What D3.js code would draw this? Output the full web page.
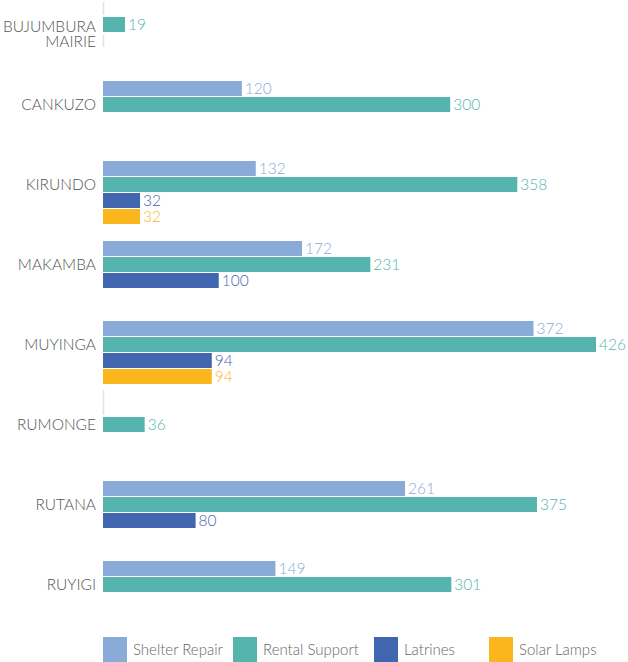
<!DOCTYPE html>
<html>
<head>
<meta charset="utf-8">
<script src="https://cdn.jsdelivr.net/npm/d3@7"></script>
<style>
  html, body { margin: 0; padding: 0; background: #fff; }
  svg { display: block; font-family: "Lato", "Open Sans", sans-serif; font-weight: 300; }
</style>
</head>
<body>
<svg id="chart" width="628" height="662"></svg>
<script>
const categories = ["BUJUMBURA MAIRIE", "CANKUZO", "KIRUNDO", "MAKAMBA", "MUYINGA", "RUMONGE", "RUTANA", "RUYIGI"];
const seriesNames = ["Shelter Repair", "Rental Support", "Latrines", "Solar Lamps"];
const shelterRepair  = [0, 120, 132, 172, 372, 0, 261, 149];
const rentalSupport  = [19, 300, 358, 231, 426, 36, 375, 301];
const latrines       = [0, 0, 32, 100, 94, 0, 80, 0];
const solarLamps     = [0, 0, 32, 0, 94, 0, 0, 0];
const seriesValues = [shelterRepair, rentalSupport, latrines, solarLamps];
const barColors   = ["#8aabd8", "#55b5ae", "#4066b0", "#fbb61e"];
const labelColors = ["#8aabd8", "#55b5ae", "#4066b0", "#fbb61e"];

const svg = d3.select("#chart");

const x = d3.scaleLinear().domain([0, 426]).range([103, 596]);
const y = d3.scaleBand().domain(categories).range([1, 641]).paddingInner(0).paddingOuter(0);
const ySlot = d3.scaleBand().domain(seriesNames).range([0, 64]);

// faint axis fragments
const axisG = svg.append("g");
const segs = [
  {cat: "BUJUMBURA MAIRIE", a: 1, b: 14},
  {cat: "BUJUMBURA MAIRIE", a: 34, b: 46},
  {cat: "RUMONGE", a: -11, b: 14}
];
axisG.selectAll("line").data(segs).join("line")
  .attr("x1", x(0) + 0.5).attr("x2", x(0) + 0.5)
  .attr("y1", d => y(d.cat) + d.a).attr("y2", d => y(d.cat) + d.b)
  .attr("stroke", "#e2e2e2").attr("stroke-width", 1.5);

// bars
const rows = [];
categories.forEach((c, i) => {
  seriesNames.forEach((s, j) => {
    const v = seriesValues[j][i];
    if (v > 0) rows.push({cat: c, series: s, j, v});
  });
});

svg.append("g").selectAll("rect").data(rows).join("rect")
  .attr("x", x(0))
  .attr("y", d => y(d.cat) + ySlot(d.series))
  .attr("width", d => x(d.v) - x(0))
  .attr("height", ySlot.bandwidth() - 1)
  .attr("fill", d => barColors[d.j]);

svg.append("g").selectAll("text").data(rows).join("text")
  .attr("x", d => x(d.v) + 3)
  .attr("y", d => y(d.cat) + ySlot(d.series) + (ySlot.bandwidth() - 1) / 2)
  .attr("dy", "0.36em")
  .attr("font-size", 15.5)
  .attr("fill", d => labelColors[d.j])
  .text(d => d.v);

// category labels
const catG = svg.append("g");
categories.forEach(c => {
  const words = c === "BUJUMBURA MAIRIE" ? ["BUJUMBURA", "MAIRIE"] : [c];
  const t = catG.append("text")
    .attr("x", 96)
    .attr("text-anchor", "end")
    .attr("font-size", 15.5)
    .attr("fill", "#555");
  words.forEach((w, k) => {
    t.append("tspan")
      .attr("x", 96)
      .attr("y", y(c) + (words.length > 1 ? 25.5 + k * 14.5 : 23.5))
      .attr("dy", "0.36em")
      .text(w);
  });
});

// legend
const legendX = [103, 233, 374, 489];
const lg = svg.append("g");
seriesNames.forEach((s, j) => {
  lg.append("rect")
    .attr("x", legendX[j]).attr("y", 637)
    .attr("width", 24).attr("height", 25)
    .attr("fill", barColors[j]);
  lg.append("text")
    .attr("x", legendX[j] + 30).attr("y", 649.5)
    .attr("dy", "0.36em")
    .attr("font-size", 15)
    .attr("fill", "#666")
    .text(s);
});
</script>
</body>
</html>
